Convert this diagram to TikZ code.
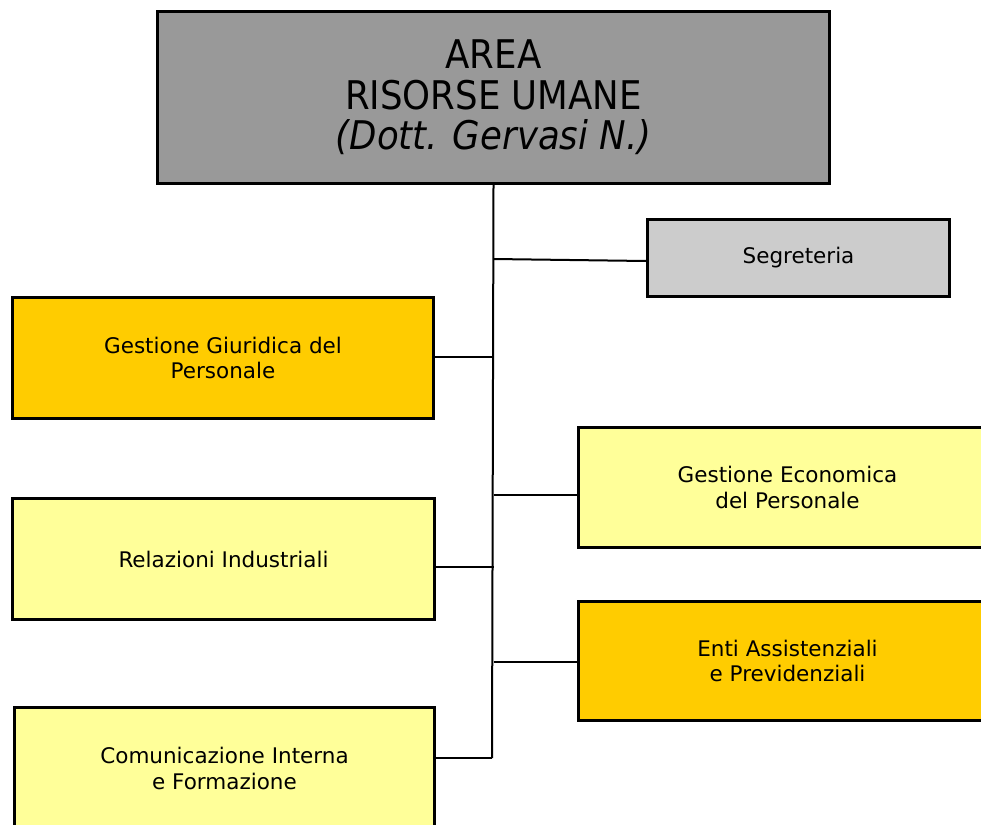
\documentclass[tikz,border=0pt]{standalone}
\usepackage{fontspec}
\setmainfont{DejaVu Sans}
\newfontfamily\titlefont{DejaVu Sans Condensed}
\definecolor{topgray}{HTML}{999999}
\definecolor{seggray}{HTML}{CCCCCC}
\definecolor{gold}{HTML}{FFCC00}
\definecolor{paleyellow}{HTML}{FFFF99}
\begin{document}
\begin{tikzpicture}[x=1pt,y=-1pt,
  box/.style={draw=black, line width=3pt, anchor=north west, inner sep=0pt, align=center,
    font=\fontsize{21.5}{25.5}\selectfont, text=black},
  link/.style={draw=black, line width=2pt}]
\useasboundingbox (0,0) rectangle (981,824);
\clip (0,0) rectangle (981,824);
\node[box, fill=topgray, minimum width=672pt, minimum height=172pt,
  font=\titlefont\fontsize{39.5}{40.5}\selectfont] (top) at (156,10)
  {AREA\\RISORSE UMANE\\\textit{(Dott. Gervasi N.)}};
\node[box, fill=seggray, minimum width=302pt, minimum height=77pt] (seg) at (646,218) {Segreteria};
\node[box, fill=gold, minimum width=421pt, minimum height=121pt] (giu) at (11,296) {Gestione Giuridica del\\Personale};
\node[box, fill=paleyellow, minimum width=418pt, minimum height=120pt] (eco) at (577,426) {Gestione Economica\\del Personale};
\node[box, fill=paleyellow, minimum width=422pt, minimum height=121pt] (rel) at (11,497) {Relazioni Industriali};
\node[box, fill=gold, minimum width=418pt, minimum height=119pt] (enti) at (577,600) {Enti Assistenziali\\e Previdenziali};
\node[box, fill=paleyellow, minimum width=420pt, minimum height=122pt] (com) at (13,706) {Comunicazione Interna\\e Formazione};
\coordinate (spineend) at (492,758);
\draw[link] (top.south) -- (spineend);
\draw[link] (top.south |- 0,259) -- (seg.west |- 0,261);
\draw[link] (giu.east |- 0,357) -- (top.south |- 0,357);
\draw[link] (top.south |- 0,495) -- (eco.west |- 0,495);
\draw[link] (rel.east |- 0,567) -- (top.south |- 0,567);
\draw[link] (top.south |- 0,662) -- (enti.west |- 0,662);
\draw[link] (com.east |- spineend) -- (spineend);
\end{tikzpicture}
\end{document}
